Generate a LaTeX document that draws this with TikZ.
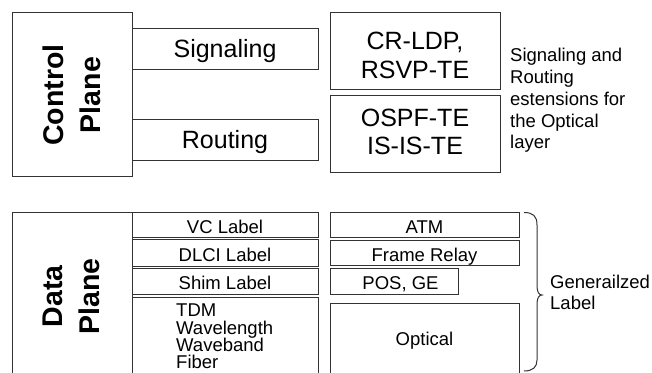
\documentclass[tikz,border=0pt]{standalone}
\usepackage{fontspec}
\setmainfont{Liberation Sans}
\begin{document}
\begin{tikzpicture}[x=1pt,y=-1pt]
\tikzset{
  box/.style={draw=black!80, line width=1pt, inner sep=0pt, fill=white},
  plane/.style={font=\fontsize{28.5}{37}\selectfont\bfseries, align=center, inner sep=0pt, rotate=90},
  big/.style={font=\fontsize{25}{28.5}\selectfont, align=center},
  bigc/.style={big, text height=18pt, text depth=0pt},
  lab/.style={box, font=\fontsize{18.5}{22}\selectfont, text height=17pt, text depth=0pt},
  note/.style={font=\fontsize{18.5}{21.75}\selectfont, align=left, inner sep=0pt},
  brace/.style={draw=black!80, line width=1pt}
}
\clip (0,0) rectangle (652,372);
\fill[white] (0,0) rectangle (652,372);

% Control plane
\node[box, minimum width=120pt, minimum height=164pt] (cp) at (72,94) {};
\node[plane] (cptext) at (71.5,95) {Control\\Plane};
\node[box, bigc, minimum width=186pt, minimum height=41pt] (sig) at (225,48.8) {Signaling};
\node[box, bigc, minimum width=186pt, minimum height=40.7pt] (rout) at (225,139.7) {Routing};
\node[box, minimum width=170pt, minimum height=77.3pt] (crldp) at (415,50.7) {};
\node[big, inner sep=0pt] (crldptext) at (415,55.5) {CR-LDP,\\RSVP-TE};
\node[box, minimum width=170pt, minimum height=77.3pt] (ospf) at (415,133.7) {};
\node[big, inner sep=0pt] (ospftext) at (415,132) {OSPF-TE\\IS-IS-TE};
\node[note, anchor=west] (ext) at (510,100.7) {Signaling and\\Routing\\estensions for\\the Optical\\layer};

% Data plane
\node[box, minimum width=120pt, minimum height=161.2pt] (dp) at (72,292.9) {};
\node[plane] (dptext) at (71.5,296.5) {Data\\Plane};
\node[lab, minimum width=186pt, minimum height=25pt] (vc) at (225,224.8) {VC Label};
\node[lab, minimum width=186pt, minimum height=26.2pt] (dlci) at (225,252.9) {DLCI Label};
\node[lab, minimum width=186pt, minimum height=25.8pt] (shim) at (225,281.4) {Shim Label};
\node[box, minimum width=186pt, minimum height=76pt] (tdm) at (225,335.5) {};
\node[font=\fontsize{18.5}{17.3}\selectfont, align=left, inner sep=0pt, anchor=north west] (tdmtext) at (176,304) {TDM\\Wavelength\\Waveband\\Fiber};

\node[lab, minimum width=189pt, minimum height=25pt] (atm) at (424.5,224.8) {ATM};
\node[lab, minimum width=189pt, minimum height=25.5pt] (fr) at (424.5,253.2) {Frame Relay};
\node[box, minimum width=128pt, minimum height=26pt] (pos) at (394,281.3) {};
\node[font=\fontsize{18.5}{22}\selectfont, inner sep=0pt, text height=13.3pt, text depth=0pt] (postext) at (400.5,282.5) {POS, GE};
\node[box, font=\fontsize{18.5}{22}\selectfont, text height=13.5pt, text depth=0pt, minimum width=189pt, minimum height=70.2pt] (opt) at (424.5,338.4) {Optical};

% Brace and label
\coordinate (bt) at (524,212.5);
\coordinate (btip) at (542,295);
\coordinate (bb) at (524,371);
\draw[brace] (bt) .. controls (533,212.5) and (537,216) .. (537,225)
  -- (537,286) .. controls (537,292) and (539,295) .. (btip)
  .. controls (539,295) and (537,298) .. (537,304)
  -- (537,360) .. controls (537,367) and (533,371) .. (bb);
\node[note, anchor=west] (gl) at (550,292.4) {Generailzed\\Label};
\end{tikzpicture}
\end{document}
